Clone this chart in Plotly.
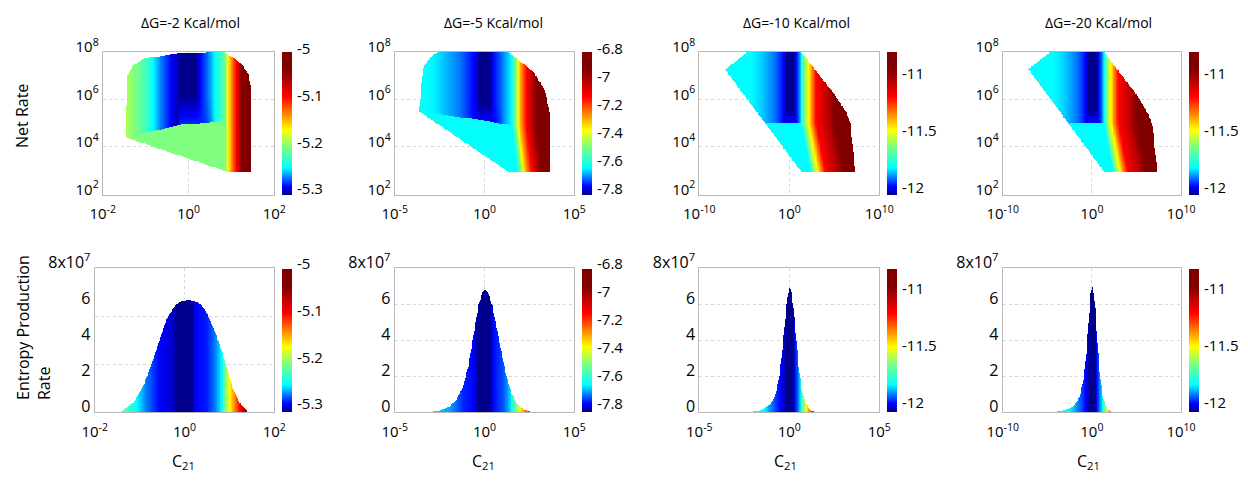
import numpy as np
import plotly.graph_objects as go

# page body keeps an 8px margin: the figure is drawn 8px smaller and all pixel
# positions below are given in the reference picture's coordinates
OFF = 8.0
W, H = 1248 - 2 * OFF, 481 - 2 * OFF
FONT = "Open Sans"

# ---------------- data ----------------
titles = ["ΔG=-2 Kcal/mol", "ΔG=-5 Kcal/mol", "ΔG=-10 Kcal/mol", "ΔG=-20 Kcal/mol"]

# colour ranges of the colour bars
clim = [(-5.317, -4.999), (-7.85, -6.7999), (-12.07, -10.815), (-12.07, -10.815)]
cbar_text = [["-5", "-5.1", "-5.2", "-5.3"], ["-6.8", "-7", "-7.2", "-7.4", "-7.6", "-7.8"],
             ["-11", "-11.5", "-12"], ["-11", "-11.5", "-12"]]
# where the colour-bar labels sit (pixels from the top of the upper colour bars)
cbar_label_y = [[48, 95, 141.5, 188], [48.3, 76.3, 104.3, 132.3, 160.3, 188.3],
                [73.3, 130, 186.7], [73.3, 130, 186.7]]

# x ranges (log10 C21)
top_xrange = [(-2, 2), (-5, 5), (-10, 10), (-10, 10)]
bot_xrange = [(-2, 2), (-5, 5), (-5, 5), (-10, 10)]

# --- top row: outline of each surface (log10 C21, log10 net rate)
out1_x = [-1.456, -1.44, -1.29, -1.05, -0.51, -0.2, 0.85, 1.04, 1.24, 1.40, 1.45, 1.48, 1.48, 0.87]
out1_y = [4.38, 6.94, 7.43, 7.71, 7.87, 7.95, 7.98, 7.77, 7.5, 7.08, 6.59, 6.03, 2.95, 2.95]
out2_x = [-3.65, -3.40, -2.85, -2.48, 1.33, 2.72, 3.37, 3.61, 3.68, 3.68, 1.33]
out2_y = [5.49, 7.39, 7.89, 8.0, 8.0, 7.18, 6.40, 5.56, 4.57, 2.94, 2.94]
out3_x = [-4.63, 1.3, 4.9, 6.37, 6.74, 7.3, 1.3, -7.15]
out3_y = [8.0, 8.0, 6.26, 5.42, 4.99, 2.95, 2.95, 7.26]
out4_x = [-4.62, 1.36, 5.03, 6.34, 6.79, 7.35, 1.36, -7.12]
out4_y = [8.0, 8.0, 6.19, 5.34, 4.97, 2.94, 2.94, 7.28]

# --- top row: colour along C21 in the upper part of each surface
f1_x = [-1.46, -1.21, -0.97, -0.82, -0.63, -0.39, -0.24, -0.20, 0.19, 0.27, 0.46, 0.62, 0.77, 0.87, 0.93, 1.01, 1.12, 1.24, 1.48]
f1_c = [-5.195, -5.212, -5.234, -5.257, -5.279, -5.299, -5.310, -5.317, -5.317, -5.299, -5.279, -5.257, -5.234, -5.209, -5.172, -5.139, -5.098, -5.04, -5.0]
f2_x = [-3.65, -2.85, -2.1, -1.36, -0.81, -0.44, -0.34, 0.31, 0.49, 0.86, 1.23, 1.51, 1.75, 1.88, 2.07, 2.35, 2.9, 3.7]
f2_c = [-7.645, -7.655, -7.69, -7.724, -7.77, -7.80, -7.85, -7.85, -7.789, -7.745, -7.69, -7.65, -7.50, -7.372, -7.262, -7.126, -6.926, -6.83]
f3_x = [-7.2, -4.26, -3.15, -1.67, -0.93, -0.48, -0.3, 0.45, 0.74, 1.11, 1.3, 1.67, 2.11, 2.48, 2.96, 4.26, 5.0, 7.3]
f3_c = [-11.832, -11.832, -11.86, -11.919, -11.97, -12.02, -12.07, -12.07, -11.997, -11.919, -11.832, -11.643, -11.499, -11.367, -11.204, -11.08, -10.966, -10.85]
f4_x = [-7.2, -4.3, -3.1, -1.7, -0.95, -0.55, -0.39, 0.5, 0.78, 1.15, 1.36, 1.7, 2.15, 2.5, 3.0, 4.3, 5.0, 7.4]
f4_c = [-11.832, -11.832, -11.86, -11.919, -11.97, -12.02, -12.07, -12.07, -11.997, -11.919, -11.832, -11.643, -11.499, -11.367, -11.204, -11.08, -10.966, -10.85]

# --- top row: flat colour of the lower part, and where the lower part starts
low_c = [-5.209, -7.645, -11.832, -11.832]
low1_x, low1_y = [-1.46, -0.2, 0.77, 1.5], [4.38, 4.91, 5.07, 5.1]
low2_x, low2_y = [-3.7, 0.0, 1.4, 3.7], [5.49, 5.1, 4.9, 4.9]
low3_x, low3_y = [-7.2, 7.3], [5.0, 5.0]
low4_x, low4_y = [-7.2, 7.4], [5.0, 5.0]
# bend at the foot of the dark band: (band left, band right, bend reaches x, top, colour reached)
knee = [(-0.22, 0.20, 0.62, 6.17, -5.292), (-0.36, 0.32, 1.05, 5.84, -7.79),
        (-0.32, 0.46, 1.15, 5.54, -11.99), (-0.41, 0.51, 1.2, 5.54, -11.99)]
slant = [0.0, 0.15, 0.5, 0.5]

# --- bottom row: entropy production curves (units of 1e7)
h1_x = [-1.44, -1.14, -0.92, -0.73, -0.55, -0.40, -0.25, -0.10, 0.10, 0.31, 0.46, 0.57, 0.72, 0.85, 0.98, 1.09, 1.24, 1.42]
h1_y = [0.0, 0.5, 1.43, 2.67, 4.02, 5.13, 5.78, 6.13, 6.24, 6.09, 5.69, 5.13, 4.2, 3.28, 2.17, 1.24, 0.5, 0.0]
h2_x = [-3.4, -2.48, -1.92, -1.55, -1.18, -0.9, -0.62, -0.34, -0.1, 0.03, 0.21, 0.45, 0.71, 0.96, 1.23, 1.51, 1.79, 2.16, 2.72]
h2_y = [0, 0.09, 0.31, 0.69, 1.43, 2.54, 4.2, 5.87, 6.7, 6.8, 6.65, 5.87, 4.57, 3.28, 1.98, 1.06, 0.5, 0.17, 0]
h3_x = [-2.46, -1.63, -1.07, -0.8, -0.56, -0.37, -0.2, -0.09, 0.0, 0.09, 0.22, 0.37, 0.54, 0.69, 0.87, 1.15, 1.48]
h3_y = [0, 0.09, 0.41, 0.87, 1.98, 3.65, 5.5, 6.52, 6.93, 6.8, 5.87, 4.2, 2.35, 1.24, 0.5, 0.13, 0]
h4_x = [-4.88, -3.2, -2.07, -1.33, -0.88, -0.58, -0.32, -0.13, 0.02, 0.17, 0.39, 0.65, 0.92, 1.21, 1.66, 2.22, 2.79]
h4_y = [0, 0.09, 0.31, 0.87, 1.98, 3.46, 5.31, 6.61, 6.93, 6.8, 5.69, 3.65, 1.98, 0.87, 0.22, 0.04, 0]

# --- bottom row: colour along C21
c1_x = [-1.44, -1.25, -1.06, -0.84, -0.55, -0.25, -0.2, 0.2, 0.23, 0.49, 0.68, 0.83, 0.92, 1.01, 1.12, 1.24, 1.38, 1.45]
c1_c = [-5.209, -5.234, -5.257, -5.279, -5.299, -5.307, -5.317, -5.317, -5.299, -5.295, -5.279, -5.257, -5.209, -5.172, -5.139, -5.098, -5.04, -5.02]
c2_x = [-3.4, -1.92, -1.18, -0.62, -0.34, 0.31, 0.49, 1.05, 1.33, 1.51, 1.79, 1.98, 2.25, 2.53, 2.81]
c2_c = [-7.65, -7.70, -7.77, -7.79, -7.85, -7.85, -7.789, -7.745, -7.70, -7.65, -7.493, -7.372, -7.262, -7.126, -6.926]
c3_x = [-2.46, -1.4, -1.07, -0.7, -0.33, -0.2, 0.19, 0.31, 0.5, 0.63, 0.78, 0.93, 1.11, 1.3, 1.48]
c3_c = [-11.832, -11.832, -11.90, -11.97, -12.02, -12.07, -12.07, -11.997, -11.919, -11.832, -11.643, -11.499, -11.367, -11.204, -11.08]
c4_x = [-4.88, -2.5, -1.7, -0.95, -0.5, -0.28, 0.36, 0.54, 0.92, 1.21, 1.48, 1.74, 2.04, 2.34, 2.79]
c4_c = [-11.832, -11.832, -11.90, -11.97, -12.02, -12.07, -12.07, -11.997, -11.90, -11.832, -11.643, -11.499, -11.367, -11.204, -11.08]

# tick labels
def p10(e):
    return "10<sup>%d</sup>" % e
top_xticks = [[-2, 0, 2], [-5, 0, 5], [-10, 0, 10], [-10, 0, 10]]
bot_xticks = [[-2, 0, 2], [-5, 0, 5], [-5, 0, 5], [-10, 0, 10]]
top_yticks = [2, 4, 6, 8]
bot_yticks = [0, 2, 4, 6, 8]
bot_ytext = ["0", "2", "4", "6", "8x10<sup>7</sup>"]

# ---------------- layout geometry (reference pixels) ----------------
top_dom_x = [(102.7, 274.3), (394.7, 574.3), (699.3, 879.3), (1002.7, 1181.0)]
bot_dom_x = [(94.7, 274.3), (394.7, 574.3), (699.3, 879.3), (1002.7, 1181.0)]
top_dom_y = (52.0, 195.0)
bot_dom_y = (268.0, 412.0)
cbar_left = [282.0, 582.0, 887.0, 1189.0]
ROW_GAP = 215.0  # vertical offset of the lower colour-bar labels


def fx(p):
    return (p - OFF) / W


def fy(p):
    return 1 - (p - OFF) / H


CS = [[0.0, "rgb(0,0,140)"], [0.058, "rgb(0,0,255)"], [0.19, "rgb(0,255,255)"],
      [0.34, "rgb(128,255,128)"], [0.455, "rgb(255,255,0)"], [0.69, "rgb(255,0,0)"],
      [0.88, "rgb(128,0,0)"], [1.0, "rgb(128,0,0)"]]


def inside(px, py, vx, vy):
    c = np.zeros(px.shape, bool)
    n = len(vx)
    j = n - 1
    for i in range(n):
        yi, yj, xi, xj = vy[i], vy[j], vx[i], vx[j]
        den = (yj - yi) if yj != yi else 1e-12
        cond = ((yi > py) != (yj > py)) & (px < (xj - xi) * (py - yi) / den + xi)
        c ^= cond
        j = i
    return c


def top_grid(k, ox, oy, fxs, fcs, lx, ly):
    x0, x1 = top_xrange[k]
    xs = np.linspace(x0, x1, 240)
    ys = np.linspace(1.9, 8.04, 170)
    X, Y = np.meshgrid(xs, ys)
    F = np.interp(X, fxs, fcs)
    B = np.interp(X, lx, ly)
    below = Y < B
    S = np.interp(X - slant[k] * np.clip(B - Y, 0, None), fxs, fcs)
    C = np.where(below, np.maximum(S, low_c[k]), F)
    xb0, xb1, kx1, ktop, kc = knee[k]
    t = np.clip((ktop - Y) / np.maximum(ktop - B, 1e-6), 0, 1)
    taper = np.where(X <= xb1, 1.0, np.clip((kx1 - X) / (kx1 - xb1), 0, 1))
    w = t * taper
    inknee = (~below) & (Y < ktop) & (X > xb0) & (X < kx1)
    C = np.where(inknee, F + (kc - F) * w, C)
    C = np.where(inside(X, Y, ox, oy), C, np.nan)
    return xs, ys, C.astype(np.float32)


def bot_grid(k, hx, hy, cx, cc):
    x0, x1 = bot_xrange[k]
    xs = np.linspace(x0, x1, 240)
    ys = np.arange(0, 8.0, 0.05)
    X, Y = np.meshgrid(xs, ys)
    Hc = np.interp(X, hx, hy, left=-1, right=-1)
    C = np.interp(X, cx, cc)
    C = np.where(Y <= Hc, C, np.nan)
    return xs, ys, C.astype(np.float32)


tops = [(out1_x, out1_y, f1_x, f1_c, low1_x, low1_y),
        (out2_x, out2_y, f2_x, f2_c, low2_x, low2_y),
        (out3_x, out3_y, f3_x, f3_c, low3_x, low3_y),
        (out4_x, out4_y, f4_x, f4_c, low4_x, low4_y)]
bots = [(h1_x, h1_y, c1_x, c1_c), (h2_x, h2_y, c2_x, c2_c),
        (h3_x, h3_y, c3_x, c3_c), (h4_x, h4_y, c4_x, c4_c)]

fig = go.Figure()
layout = dict(width=W, height=H, margin=dict(l=0, r=0, t=0, b=0, autoexpand=False),
              paper_bgcolor="white", plot_bgcolor="white", showlegend=False,
              font=dict(family=FONT, color="black"))

GRID = "#d6d6d6"
LINE = "#b8b8b8"


def axis(dom, rng, tv, tt, anchor, size=15, shift=0, standoff=None):
    d = dict(domain=[dom[0], dom[1]], range=list(rng), tickmode="array", tickvals=tv, ticktext=tt,
             showgrid=True, gridcolor=GRID, griddash="dot", gridwidth=1, zeroline=False,
             showline=True, linecolor=LINE, linewidth=1, mirror=True, ticks="",
             tickfont=dict(size=size, family=FONT, color="black"), anchor=anchor, fixedrange=True,
             automargin=False)
    if shift:
        d["ticklabelshift"] = shift
    if standoff is not None:
        d["ticklabelstandoff"] = standoff
    return d


def cbar(k, yc):
    return dict(x=fx(cbar_left[k]), xanchor="left", xpad=0, y=fy(yc), yanchor="middle", ypad=0,
                len=143, lenmode="pixels", thickness=10, thicknessmode="pixels", outlinewidth=0,
                showticklabels=False, ticks="")


for k in range(4):
    # top
    n = 2 * k + 1
    xs, ys, Z = top_grid(k, *tops[k])
    xa, ya = ("x" if n == 1 else "x%d" % n), ("y" if n == 1 else "y%d" % n)
    fig.add_trace(go.Heatmap(x=xs, y=ys, z=Z, colorscale=CS, zmin=clim[k][0], zmax=clim[k][1],
                             xaxis=xa, yaxis=ya, hoverinfo="skip",
                             colorbar=cbar(k, (top_dom_y[0] + top_dom_y[1]) / 2)))
    dx = (fx(top_dom_x[k][0]), fx(top_dom_x[k][1]))
    dy = (fy(top_dom_y[1]), fy(top_dom_y[0]))
    layout["xaxis" if n == 1 else "xaxis%d" % n] = axis(dx, top_xrange[k], top_xticks[k],
                                                        [p10(v) for v in top_xticks[k]], ya,
                                                        standoff=5)
    layout["yaxis" if n == 1 else "yaxis%d" % n] = axis(dy, (1.97, 8.0), top_yticks,
                                                        [p10(v) for v in top_yticks], xa, shift=-5)
    # bottom
    n = 2 * k + 2
    xs, ys, Z = bot_grid(k, *bots[k])
    xa, ya = "x%d" % n, "y%d" % n
    fig.add_trace(go.Heatmap(x=xs, y=ys, z=Z, colorscale=CS, zmin=clim[k][0], zmax=clim[k][1],
                             xaxis=xa, yaxis=ya, hoverinfo="skip",
                             colorbar=cbar(k, (bot_dom_y[0] + bot_dom_y[1]) / 2)))
    dx = (fx(bot_dom_x[k][0]), fx(bot_dom_x[k][1]))
    dy = (fy(bot_dom_y[1]), fy(bot_dom_y[0]))
    layout["xaxis%d" % n] = axis(dx, bot_xrange[k], bot_xticks[k],
                                 [p10(v) for v in bot_xticks[k]], ya, standoff=6)
    yax = axis(dy, (0, 8), bot_yticks, bot_ytext, xa, size=16, shift=-6)
    if k == 0:
        yax["showgrid"] = False
        yax["minor"] = dict(tickmode="array", tickvals=[8 / 3, 16 / 3], showgrid=True,
                            gridcolor=GRID, griddash="dot", ticks="")
    layout["yaxis%d" % n] = yax

ann = []
# colour-bar labels
for k in range(4):
    for txt, yy in zip(cbar_text[k], cbar_label_y[k]):
        for dyy in (0.0, ROW_GAP):
            ann.append(dict(text=txt, x=fx(cbar_left[k] + 13), y=fy(yy + dyy), xref="paper",
                            yref="paper", showarrow=False, xanchor="left", yanchor="middle",
                            font=dict(size=15, family=FONT)))
title_x = [191.0, 493.0, 796.0, 1098.0]
for k in range(4):
    ann.append(dict(text=titles[k], x=fx(title_x[k]), y=fy(23), xref="paper", yref="paper",
                    showarrow=False, font=dict(size=14, family=FONT), xanchor="center", yanchor="middle"))
c21_x = [183.0, 483.0, 785.0, 1088.0]
for k in range(4):
    ann.append(dict(text="C<sub>21</sub>", x=fx(c21_x[k]), y=fy(461), xref="paper", yref="paper",
                    showarrow=False, font=dict(size=16, family=FONT), xanchor="center", yanchor="middle"))
ann.append(dict(text="Net Rate", x=fx(22), y=fy(116), xref="paper", yref="paper", textangle=-90,
                showarrow=False, font=dict(size=16, family=FONT), xanchor="center", yanchor="middle"))
ann.append(dict(text="Entropy Production<br>Rate", x=fx(33), y=fy(328), xref="paper", yref="paper",
                textangle=-90, align="left", showarrow=False, font=dict(size=16, family=FONT),
                xanchor="center", yanchor="middle"))
layout["annotations"] = ann

fig.update_layout(**layout)
fig.write_html("out.html")
